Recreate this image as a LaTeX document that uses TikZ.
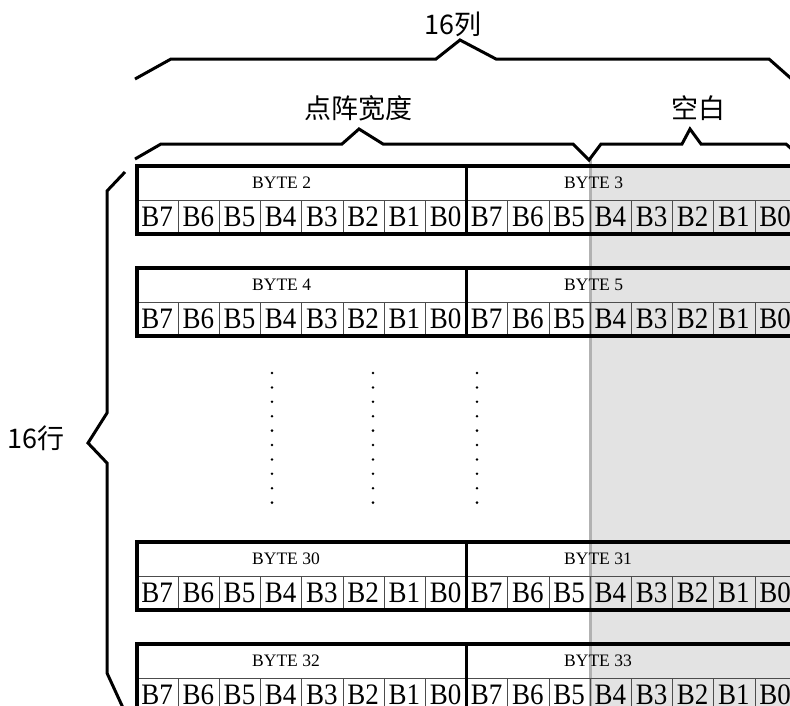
\documentclass[tikz,border=0pt]{standalone}
\usepackage{graphicx}
\usepackage{fontspec}
\setmainfont{Liberation Serif}
\newfontfamily\cjk{Noto Sans CJK SC}
\newcommand{\bitlab}[1]{\scalebox{1}[1.1]{#1}}
\begin{document}
\begin{tikzpicture}[x=1pt,y=-1pt,
  thickln/.style={line width=3.5pt},
  thinln/.style={line width=0.8pt, draw=black!70},
  bracel/.style={line width=3pt, line join=miter},
  bittxt/.style={font=\fontsize{27}{27}\selectfont, inner sep=0pt},
  bytetxt/.style={font=\fontsize{17.5}{17.5}\selectfont, inner sep=0pt, anchor=west},
  cjklab/.style={font=\cjk\fontsize{27}{27}\selectfont, inner sep=0pt},
  dotc/.style={fill=black, circle, inner sep=0pt, minimum size=2.8pt}
]
\useasboundingbox (0,0) rectangle (790,705);
\clip (0,0) rectangle (790,705);
% blank (shaded) region
\fill[gray!22] (590,166) rectangle (800,710);
\draw[line width=3pt, gray!60] (590,158) -- (590,710);
% rows
\foreach \ty/\a/\b [count=\r] in {166/2/3, 268/4/5, 542/30/31, 644/32/33}{
  \draw[thinln] (137,\ty+34) -- (800,\ty+34);
  \foreach \k in {1,...,15}{
    \draw[thinln] ({137+41.2*\k},\ty+34) -- ({137+41.2*\k},\ty+68);
  }
  \draw[thickln] (137,\ty) rectangle (820,\ty+68);
  \draw[thickln] (466.4,\ty) -- (466.4,\ty+68);
  \node[bytetxt] (h\r a) at (252,\ty+17) {BYTE \a};
  \node[bytetxt] (h\r b) at (564,\ty+17) {BYTE \b};
  \foreach \k in {0,...,15}{
    \pgfmathtruncatemacro\bit{7-mod(\k,8)}
    \node[bittxt] (c\r-\k) at ({136.5+41.2*(\k+0.5)},\ty+51) {\bitlab{B\bit}};
  }
}
% dots
\foreach \x in {272,373,477}{
  \foreach \i in {0,...,9}{
    \node[dotc] (d\x-\i) at (\x,{373+14.4*\i}) {};
  }
}
% braces
\draw[bracel] (135,79) -- (171,59) -- (436,59) -- (460,40) -- (496,59) -- (769,59) -- (795,82);
\draw[bracel] (135,159) -- (161,144) -- (342,144) -- (359,129) -- (383,144) -- (573,144) -- (589,160) -- (601,144) -- (682,144) -- (690,129) -- (701,144) -- (786,144) -- (795,152);
\draw[bracel] (125,172) -- (107,191) -- (107,413) -- (88,443) -- (107,463) -- (107,673) -- (124,710);
% labels
\node[cjklab] (l16c) at (453,24) {16列};
\node[cjklab] (ldw) at (358,108) {点阵宽度};
\node[cjklab] (lkb) at (698,108) {空白};
\node[cjklab] (l16r) at (36,438) {16行};
\end{tikzpicture}
\end{document}
